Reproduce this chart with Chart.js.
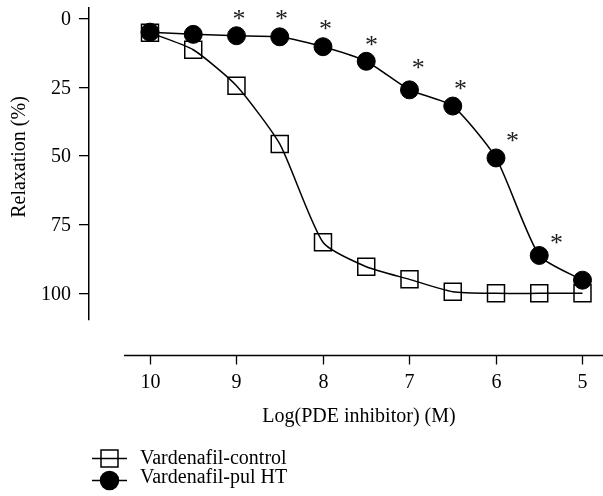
<!DOCTYPE html>
<html>
<head>
<meta charset="utf-8">
<script src="https://cdn.jsdelivr.net/npm/chart.js@4/dist/chart.umd.min.js"></script>
<style>
  html, body { margin: 0; padding: 0; background: #fff; }
  canvas { display: block; }
</style>
</head>
<body>
<canvas id="chart" width="603" height="496"></canvas>
<script>
// log concentration (M), reversed axis
const logConc = [10, 9.5, 9, 8.5, 8, 7.5, 7, 6.5, 6, 5.5, 5];
const controlValues = [5.1, 11.3, 24.4, 45.6, 81.4, 90.3, 94.9, 99.4, 100, 100, 100];
const pulHtValues = [4.9, 5.7, 6.2, 6.6, 10.2, 15.5, 25.9, 31.8, 50.7, 86.2, 95.2];

// significance marks (*) above the pul HT curve
const sigX = [8.97, 8.48, 7.97, 7.44, 6.90, 6.41, 5.81, 5.30];
const sigY = [-2.0, -2.0, 1.5, 7.5, 15.7, 23.3, 42.4, 79.4];

const xTicks = [10, 9, 8, 7, 6, 5];
const yTicks = [0, 25, 50, 75, 100];

const seriesNames = ['Vardenafil-control', 'Vardenafil-pul HT'];

const FONT = "'Liberation Serif', 'Times New Roman', serif";
Chart.defaults.font.family = FONT;
Chart.defaults.font.size = 20;
Chart.defaults.color = '#000';

const toPoints = vals => logConc.map((x, i) => ({ x: x, y: vals[i] }));

// tick labels, titles + detached x axis, placed with the chart's scales
const axisDecor = {
    id: 'axisDecor',
    afterDraw(chart) {
        const ctx = chart.ctx;
        const xs = chart.scales.x, ys = chart.scales.y;
        const yLine = chart.chartArea.bottom + 35.5;
        ctx.save();
        ctx.strokeStyle = '#000';
        ctx.lineWidth = 1.5;
        ctx.beginPath();
        ctx.moveTo(xs.getPixelForValue(10.3), yLine);
        ctx.lineTo(chart.width, yLine);
        ctx.stroke();
        ctx.lineWidth = 1.3;
        ctx.fillStyle = '#000';
        ctx.font = '20px ' + FONT;
        ctx.textAlign = 'center';
        ctx.textBaseline = 'alphabetic';
        xTicks.forEach(v => {
            const px = Math.round(xs.getPixelForValue(v)) + 0.5;
            ctx.beginPath();
            ctx.moveTo(px, yLine);
            ctx.lineTo(px, yLine + 9);
            ctx.stroke();
            ctx.fillText(String(v), px, yLine + 32);
        });
        ctx.fillText('Log(PDE inhibitor) (M)', 359, 421.5);

        ctx.textAlign = 'right';
        ctx.textBaseline = 'middle';
        yTicks.forEach(v => {
            ctx.fillText(String(v), ys.left + ys.width - 18, ys.getPixelForValue(v) + 1);
        });

        // y title
        ctx.translate(25, 157);
        ctx.rotate(-Math.PI / 2);
        ctx.textAlign = 'center';
        ctx.textBaseline = 'alphabetic';
        ctx.fillText('Relaxation (%)', 0, 0);
        ctx.restore();
    }
};

const sigMarks = {
    id: 'sigMarks',
    afterDatasetsDraw(chart) {
        const ctx = chart.ctx;
        const xs = chart.scales.x, ys = chart.scales.y;
        ctx.save();
        ctx.fillStyle = '#222';
        ctx.font = '26px ' + FONT;
        ctx.textAlign = 'center';
        ctx.textBaseline = 'alphabetic';
        sigX.forEach((v, i) => {
            ctx.fillText('*', xs.getPixelForValue(v), ys.getPixelForValue(sigY[i]) + 14);
        });
        ctx.restore();
    }
};

const customLegend = {
    id: 'customLegend',
    afterDraw(chart) {
        const ctx = chart.ctx;
        const items = [
            { style: 'rect', radius: 12, fill: 'rgba(0,0,0,0)', y: 458.5, base: 463.5 },
            { style: 'circle', radius: 9, fill: '#000', y: 480.5, base: 482.5 }
        ];
        ctx.save();
        items.forEach((it, i) => {
            ctx.strokeStyle = '#000';
            ctx.lineWidth = 1.5;
            ctx.beginPath();
            ctx.moveTo(92, it.y);
            ctx.lineTo(127, it.y);
            ctx.stroke();
            ctx.fillStyle = it.fill;
            Chart.helpers.drawPoint(ctx, { pointStyle: it.style, radius: it.radius, borderWidth: 1.5, rotation: 0 }, 109.5, it.y);
            ctx.fillStyle = '#000';
            ctx.font = '20px ' + FONT;
            ctx.textAlign = 'left';
            ctx.textBaseline = 'alphabetic';
            ctx.fillText(seriesNames[i], 140, it.base);
        });
        ctx.restore();
    }
};

new Chart(document.getElementById('chart'), {
    type: 'line',
    data: {
        datasets: [
            {
                label: seriesNames[0],
                data: toPoints(controlValues),
                order: 1,
                borderColor: '#000',
                borderWidth: 1.5,
                tension: 0.2,
                pointStyle: 'rect',
                pointRadius: 12,
                pointBorderWidth: 1.5,
                pointBorderColor: '#000',
                pointBackgroundColor: 'rgba(255,255,255,0)',
                clip: false
            },
            {
                label: seriesNames[1],
                data: toPoints(pulHtValues),
                order: 0,
                borderColor: '#000',
                borderWidth: 1.5,
                tension: 0.2,
                pointStyle: 'circle',
                pointRadius: 9,
                pointBorderWidth: 1,
                pointBorderColor: '#000',
                pointBackgroundColor: '#000',
                clip: false
            }
        ]
    },
    options: {
        responsive: false,
        animation: false,
        devicePixelRatio: 1,
        layout: { autoPadding: false, padding: { top: 8, right: 0, bottom: 0, left: 0 } },
        plugins: {
            legend: { display: false },
            tooltip: { enabled: false }
        },
        scales: {
            x: {
                type: 'linear',
                reverse: true,
                min: 4.763,
                max: 10.705,
                grid: { display: false },
                border: { display: false },
                ticks: { display: false },
                afterBuildTicks: s => { s.ticks = xTicks.map(v => ({ value: v })); },
                afterFit: s => { s.height = 176; }
            },
            y: {
                type: 'linear',
                reverse: true,
                min: -3.9,
                max: 109.7,
                grid: { drawOnChartArea: false, drawTicks: true, tickLength: 10, color: '#000', lineWidth: 1.3 },
                border: { display: true, color: '#000', width: 1.5 },
                ticks: { display: false },
                afterBuildTicks: s => { s.ticks = yTicks.map(v => ({ value: v })); },
                afterFit: s => { s.width = 89; }
            }
        }
    },
    plugins: [axisDecor, sigMarks, customLegend]
});
</script>
</body>
</html>
